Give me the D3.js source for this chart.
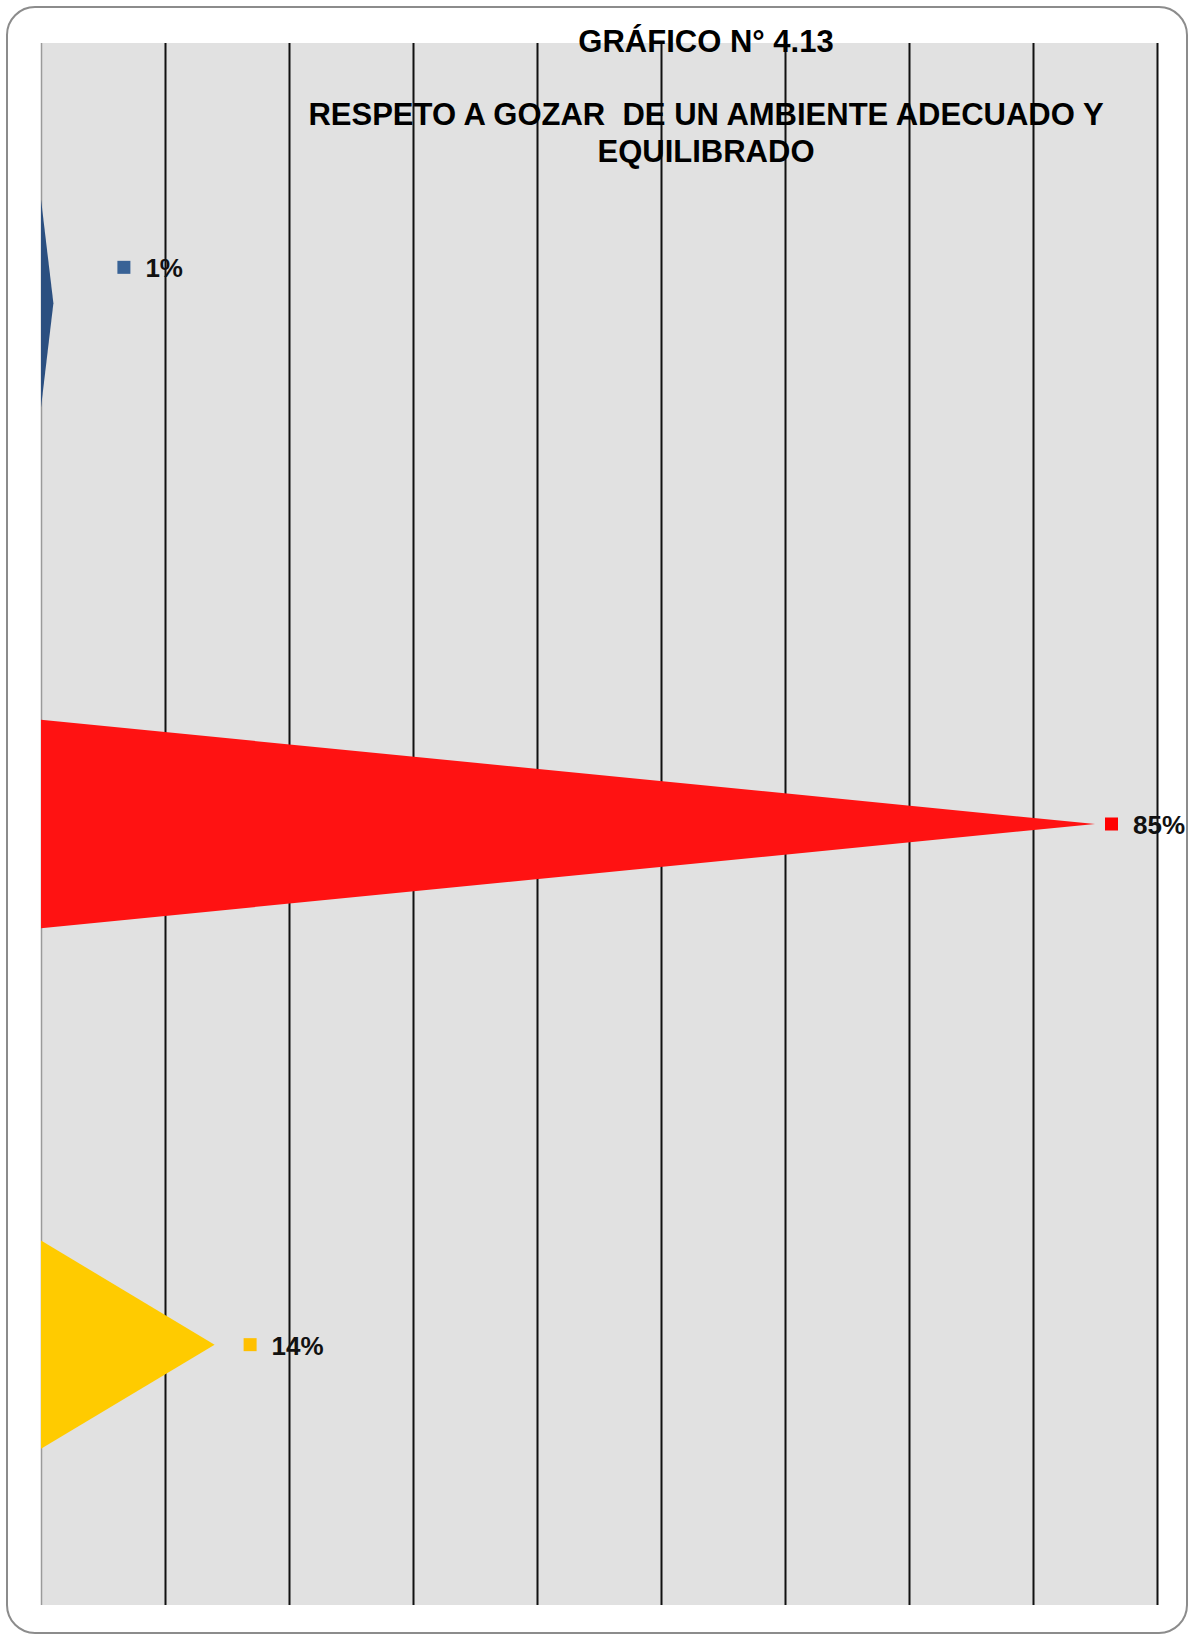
<!DOCTYPE html>
<html>
<head>
<meta charset="utf-8">
<script src="https://cdn.jsdelivr.net/npm/d3@7"></script>
<style>
  body { margin: 0; background: #fff; }
  svg { display: block; font-family: "Liberation Sans", Arial, sans-serif; }
</style>
</head>
<body>
<svg width="1190" height="1636"></svg>
<script>
// data
const categories = ["Cat 1", "Cat 2", "Cat 3"];
const values = [0.01, 0.85, 0.14];
const colors = ["#2b4f80", "#ff1212", "#ffcb00"];
const keyColors = ["#386296", "#ff0000", "#ffc000"];
const tickValues = [0, 0.1, 0.2, 0.3, 0.4, 0.5, 0.6, 0.7, 0.8, 0.9];
const titleLines = ["GRÁFICO N° 4.13"];
const subtitleLines = ["RESPETO A GOZAR  DE UN AMBIENTE ADECUADO Y", "EQUILIBRADO"];

const svg = d3.select("svg");
const plot = { left: 41, top: 43, right: 1157, bottom: 1605 };

// outer frame
svg.append("rect")
    .attr("x", 7).attr("y", 7)
    .attr("width", 1180).attr("height", 1626)
    .attr("rx", 28).attr("ry", 28)
    .attr("fill", "#fff")
    .attr("stroke", "#8c8c8c")
    .attr("stroke-width", 2);

const x = d3.scaleLinear().domain([0, 0.9]).range([plot.left, plot.right]);
const y = d3.scaleBand().domain(categories).range([plot.top, plot.bottom])
    .paddingInner(0.6).paddingOuter(0.3);

// plot background
svg.append("rect")
    .attr("x", plot.left).attr("y", plot.top)
    .attr("width", plot.right - plot.left).attr("height", plot.bottom - plot.top)
    .attr("fill", "#e1e1e1");

// vertical gridlines via axis
const grid = svg.append("g")
    .attr("transform", "translate(0," + plot.top + ")")
    .call(d3.axisBottom(x).tickValues(tickValues).tickSize(plot.bottom - plot.top).tickFormat(""));
grid.select(".domain").remove();
grid.selectAll(".tick line")
    .attr("stroke", (d, i) => i === 0 ? "#9a9a9a" : "#111")
    .attr("stroke-width", (d, i) => i === 0 ? 1.5 : 2);

// triangle bars
svg.append("g").selectAll("path")
    .data(values)
    .enter().append("path")
    .attr("d", function(d, i) {
        const y0 = y(categories[i]), bw = y.bandwidth();
        return "M" + x(0) + "," + y0 + "L" + x(d) + "," + (y0 + bw / 2) + "L" + x(0) + "," + (y0 + bw) + "Z";
    })
    .attr("fill", (d, i) => colors[i]);

// data labels with legend key (nudged like the original)
const nudge = [{ dx: 64, dy: -36 }, { dx: 10, dy: 0 }, { dx: 29, dy: 0 }];
const fmt = d3.format(".0%");
const labels = svg.append("g").selectAll("g")
    .data(values)
    .enter().append("g")
    .attr("transform", (d, i) => "translate(" + (x(d) + nudge[i].dx) + "," + (y(categories[i]) + y.bandwidth() / 2 + nudge[i].dy) + ")");
labels.append("rect")
    .attr("x", 0).attr("y", -6.5)
    .attr("width", 13).attr("height", 13)
    .attr("fill", (d, i) => keyColors[i]);
labels.append("text")
    .attr("x", 28).attr("y", 10)
    .attr("font-size", 26).attr("font-weight", "bold")
    .attr("fill", "#111")
    .text(d => fmt(d));

// titles
svg.append("g").selectAll("text")
    .data(titleLines)
    .enter().append("text")
    .attr("x", 706).attr("y", 52)
    .attr("text-anchor", "middle")
    .attr("font-size", 31).attr("font-weight", "bold")
    .text(d => d);

svg.append("g").selectAll("text")
    .data(subtitleLines)
    .enter().append("text")
    .attr("x", 706).attr("y", (d, i) => 125 + i * 37)
    .attr("text-anchor", "middle")
    .attr("font-size", 31).attr("font-weight", "bold")
    .style("white-space", "pre")
    .text(d => d);
</script>
</body>
</html>
